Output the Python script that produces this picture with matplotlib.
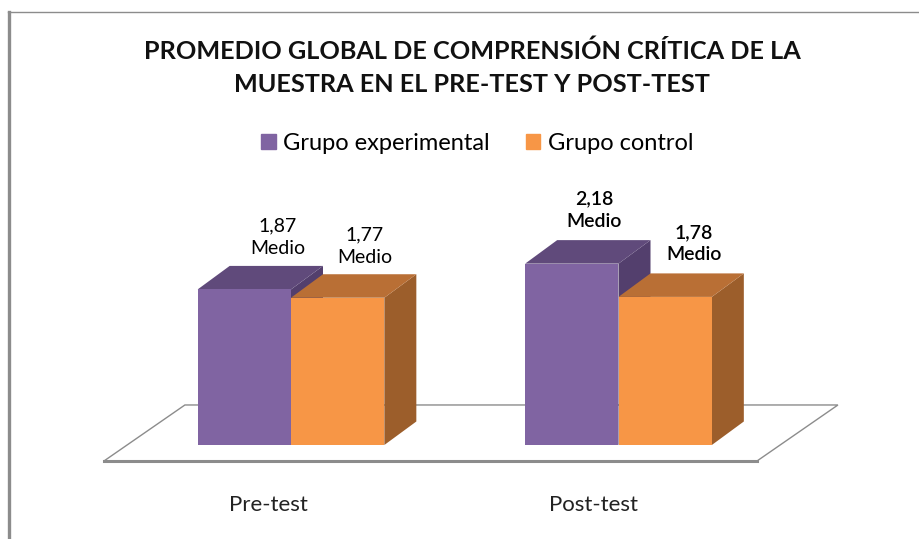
import matplotlib
matplotlib.use("Agg")
import matplotlib.pyplot as plt
from matplotlib.patches import Polygon, Patch

plt.rcParams['font.family'] = ['Lato', 'DejaVu Sans']

categorias = ["Pre-test", "Post-test"]
grupos = ["Grupo experimental", "Grupo control"]
experimental = [1.87, 2.18]
control = [1.77, 1.78]
etiquetas_exp = ["1,87\nMedio", "2,18\nMedio"]
etiquetas_con = ["1,77\nMedio", "1,78\nMedio"]
titulo = "PROMEDIO GLOBAL DE COMPRENSIÓN CRÍTICA DE LA\nMUESTRA EN EL PRE-TEST Y POST-TEST"

W, H = 920, 539
PX_X, PX_Y = 327.5, 83.2  # pixeles por unidad
ancho = 0.285      # ancho de barra
prof_x = 32 / PX_X  # profundidad 3D
prof_y = 23.5 / PX_Y

fig = plt.figure(figsize=(W / 100, H / 100), dpi=100)
ax = fig.add_axes([0, 0, 1, 1])
ax.set_xlim(-291 / PX_X, (W - 291) / PX_X)
ax.set_ylim(-(H - 445) / PX_Y, 445 / PX_Y)
ax.axis("off")


def barra3d(x, v, frente, arriba, lado, z):
    ax.bar(x, v, ancho, align="edge", color=frente, zorder=z + 0.2)
    ax.add_patch(Polygon([(x, v), (x + ancho, v), (x + ancho + prof_x, v + prof_y), (x + prof_x, v + prof_y)],
                         color=arriba, lw=0, zorder=z + 0.1))
    ax.add_patch(Polygon([(x + ancho, 0), (x + ancho + prof_x, prof_y), (x + ancho + prof_x, v + prof_y), (x + ancho, v)],
                         color=lado, lw=0, zorder=z))


# piso
piso = [(-0.571, -0.192), (1.423, -0.192), (1.670, 0.481), (-0.324, 0.481)]
ax.add_patch(Polygon(piso, closed=True, fc="white", ec="#8c8c8c", lw=1, zorder=1))
ax.plot([piso[0][0], piso[1][0]], [piso[0][1], piso[1][1]], color="#8c8c8c", lw=2.2, zorder=1.5)

for i in range(len(categorias)):
    barra3d(i - ancho, experimental[i], "#8064a2", "#604a7b", "#533f6d", 2)
    barra3d(i, control[i], "#f79646", "#b96f35", "#9c5e2b", 3)

# etiquetas
pesos = ["normal", "semibold"]
off_exp = [-0.04, -0.075]
off_con = [0.225, 0.23]
off_cat = [-0.07, -0.075]
alto_exp = [0.105, 0.12]
alto_con = [0.095, 0.12]
for i in range(len(categorias)):
    ax.text(i + off_exp[i], experimental[i] + prof_y + alto_exp[i], etiquetas_exp[i], ha="center", va="bottom",
            fontsize=14, linespacing=1.4, color="black", fontweight=pesos[i], zorder=5)
    ax.text(i + off_con[i], control[i] + prof_y + alto_con[i], etiquetas_con[i], ha="center", va="bottom",
            fontsize=14, linespacing=1.4, color="black", fontweight=pesos[i], zorder=5)
    ax.text(i + off_cat[i], -0.725, categorias[i], ha="center", va="center",
            fontsize=16, color="#222222")

# marco
fig.add_artist(plt.Line2D([9.5 / W, 9.5 / W], [0, 1 - 12 / H], color="#8c8c8c", lw=2.4))
fig.add_artist(plt.Line2D([8 / W, 1], [1 - 12 / H, 1 - 12 / H], color="#8c8c8c", lw=1))

fig.text(472 / W, 1 - 68 / H, titulo, ha="center", va="center", fontsize=18.15, fontweight="bold",
         linespacing=1.54, color="#111111")

handles = [Patch(color="#8064a2", label=grupos[0]), Patch(color="#f79646", label=grupos[1])]
fig.legend(handles=handles, loc="center", bbox_to_anchor=(477 / W, 1 - 143 / H), ncol=2, frameon=False,
           fontsize=17, handlelength=0.62, handleheight=0.62, handletextpad=0.3, columnspacing=1.55)

fig.savefig("out.png", dpi=100)
